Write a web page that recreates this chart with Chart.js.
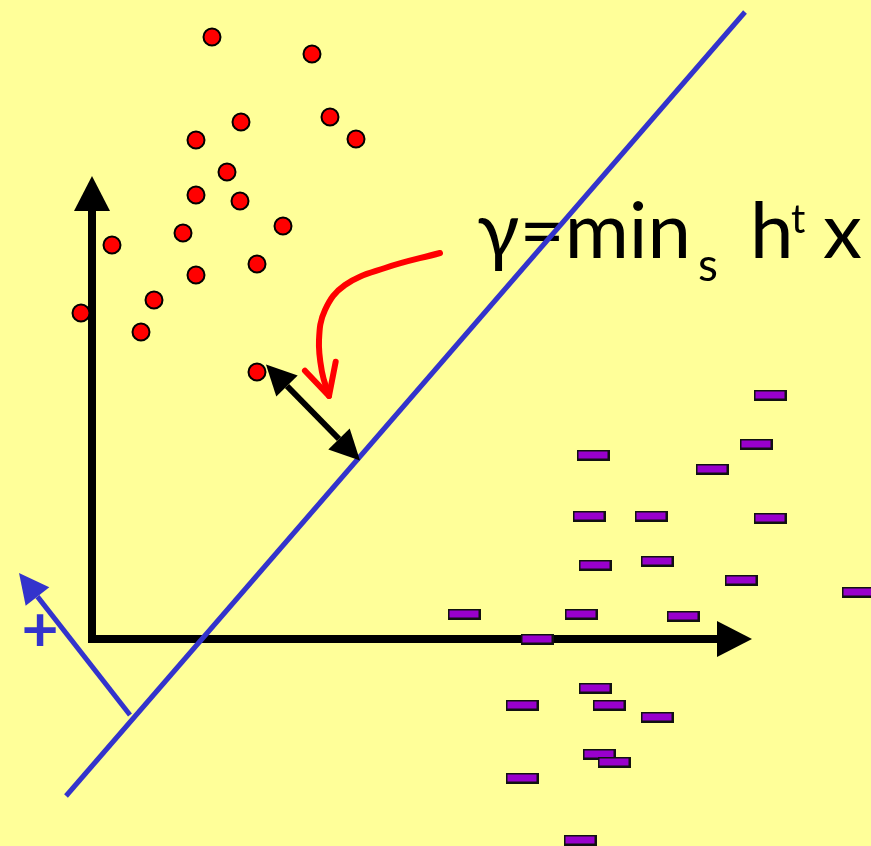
<!DOCTYPE html>
<html>
<head>
<meta charset="utf-8">
<style>
  html, body { margin: 0; padding: 0; background: #ffff99; }
  canvas { display: block; }
</style>
<script src="https://cdn.jsdelivr.net/npm/chart.js@4.4.1/dist/chart.umd.min.js"></script>
</head>
<body>
<canvas id="marginChart" width="871" height="846"></canvas>
<script>
// class "o" samples (red dots)
var redX = [212, 312, 241, 196, 330, 356, 227, 196, 240, 283, 183, 112, 257, 196, 154, 81, 141, 257];
var redY = [37, 54, 122, 140, 117, 139, 172, 195, 201, 226, 233, 245, 264, 275, 300, 313, 332, 372];

// class "-" samples (purple dashes)
var dashX = [770, 756, 593, 712, 589, 651, 770, 595, 657, 741, 858, 581, 683, 464, 537, 595, 522, 609, 657, 599, 614, 522, 580];
var dashY = [395, 444, 455, 469, 516, 516, 518, 565, 561, 580, 592, 614, 616, 614, 639, 688, 705, 705, 717, 754, 762, 778, 840];

// separating line and its normal
var boundaryX = [745, 66];
var boundaryY = [12, 796];
var normalX = [130, 37.5];
var normalY = [715, 596.6];

// coordinate axes
var vAxisX = [92, 92];
var vAxisY = [643, 211];
var hAxisX = [88, 717];
var hAxisY = [639, 639];

// margin arrow (closest point to the line)
var marginX = [287, 339];
var marginY = [386, 439];

// curved pointer towards the margin
var curveX = [440, 385, 345, 325, 319, 322, 329];
var curveY = [253, 268, 285, 310, 340, 372, 396];

// formula label
var labelText = ['γ=min', 's', 'h', 't', 'x'];
var labelX = [477, 698, 750, 791, 823];
var labelY = [258, 281, 258, 233, 258];
var labelSize = [78, 46, 78, 40, 78];

function pts(xs, ys) {
    return xs.map(function(x, i) { return { x: x, y: ys[i] }; });
}

function dashImage() {
    var c = document.createElement('canvas');
    c.width = 33; c.height = 11;
    var g = c.getContext('2d');
    g.fillStyle = '#111';
    g.fillRect(0, 0, 33, 11);
    g.fillStyle = '#9900cc';
    g.fillRect(2, 2, 29, 7);
    return c;
}

function lineSet(xs, ys, color, width, extra) {
    var ds = {
        data: pts(xs, ys),
        showLine: true,
        borderColor: color,
        borderWidth: width,
        pointRadius: 0,
        fill: false
    };
    for (var k in extra) ds[k] = extra[k];
    return ds;
}

function drawHead(ctx, from, to, h, color) {
    var a = Math.atan2(to.y - from.y, to.x - from.x);
    ctx.save();
    ctx.translate(to.x, to.y);
    ctx.rotate(a);
    ctx.beginPath();
    if (h.open) {
        ctx.moveTo(-h.len, -h.half);
        ctx.lineTo(0, 0);
        ctx.lineTo(-h.len, h.half);
        ctx.strokeStyle = color;
        ctx.lineWidth = h.width;
        ctx.lineCap = 'round';
        ctx.lineJoin = 'round';
        ctx.stroke();
    } else {
        ctx.moveTo(h.len, 0);
        ctx.lineTo(0, -h.half);
        ctx.lineTo(0, h.half);
        ctx.closePath();
        ctx.fillStyle = color;
        ctx.fill();
    }
    ctx.restore();
}

//* arrow heads drawn right after their own line
var arrowPlugin = {
    id: 'arrows',
    afterDatasetDraw: function(chart, args) {
        var ds = chart.data.datasets[args.index];
        var p = args.meta.data;
        var ctx = chart.ctx;
        if (ds.headEnd) {
            var last = p[p.length - 1];
            var prev = (last.cp1x !== undefined && ds.tension) ? { x: last.cp1x, y: last.cp1y } : p[p.length - 2];
            drawHead(ctx, prev, last, ds.headEnd, ds.borderColor);
        }
        if (ds.headStart) {
            drawHead(ctx, p[1], p[0], ds.headStart, ds.borderColor);
        }
    }
};

//* formula and the "+" mark, under the lines
var textPlugin = {
    id: 'labels',
    beforeDatasetsDraw: function(chart) {
        var ctx = chart.ctx;
        var sx = chart.scales.x, sy = chart.scales.y;
        ctx.save();
        ctx.fillStyle = '#000';
        ctx.textAlign = 'left';
        ctx.textBaseline = 'alphabetic';
        for (var i = 0; i < labelText.length; i++) {
            ctx.font = labelSize[i] + 'px Lato';
            ctx.fillText(labelText[i], sx.getPixelForValue(labelX[i]), sy.getPixelForValue(labelY[i]));
        }
        // plus sign beside the normal vector
        ctx.font = 'bold 64px Lato';
        ctx.fillStyle = '#3333cc';
        ctx.textAlign = 'center';
        var m = ctx.measureText('+');
        var mid = (m.actualBoundingBoxAscent - m.actualBoundingBoxDescent) / 2;
        ctx.fillText('+', sx.getPixelForValue(40), sy.getPixelForValue(630) + mid);
        ctx.restore();
    }
};

var ctx = document.getElementById('marginChart').getContext('2d');
var marginChart = new Chart(ctx, {
    type: 'scatter',
    data: {
        datasets: [
            {
                data: pts(redX, redY),
                pointStyle: 'circle',
                pointRadius: 8.5,
                pointBackgroundColor: '#ff0000',
                pointBorderColor: '#000',
                pointBorderWidth: 2
            },
            {
                data: pts(dashX, dashY),
                pointStyle: dashImage(),
                pointRadius: 5
            },
            lineSet(marginX, marginY, '#000', 6, {
                headEnd: { len: 30, half: 15 },
                headStart: { len: 30, half: 15 }
            }),
            lineSet(curveX, curveY, '#ff0000', 6, {
                tension: 0.4,
                borderCapStyle: 'round',
                headEnd: { open: true, len: 31, half: 16, width: 6 }
            }),
            lineSet(boundaryX, boundaryY, '#3333cc', 5, {}),
            lineSet(normalX, normalY, '#3333cc', 5, {
                headEnd: { len: 30, half: 15 }
            }),
            lineSet(hAxisX, hAxisY, '#000', 8, {
                headEnd: { len: 35, half: 18 }
            }),
            lineSet(vAxisX, vAxisY, '#000', 8, {
                headEnd: { len: 35, half: 18 }
            })
        ]
    },
    options: {
        responsive: false,
        animation: false,
        events: [],
        layout: { padding: 0, autoPadding: false },
        plugins: {
            legend: { display: false },
            tooltip: { enabled: false }
        },
        scales: {
            x: { type: 'linear', min: 0, max: 871, display: false },
            y: { type: 'linear', min: 0, max: 846, reverse: true, display: false }
        }
    },
    plugins: [textPlugin, arrowPlugin]
});
</script>
</body>
</html>
